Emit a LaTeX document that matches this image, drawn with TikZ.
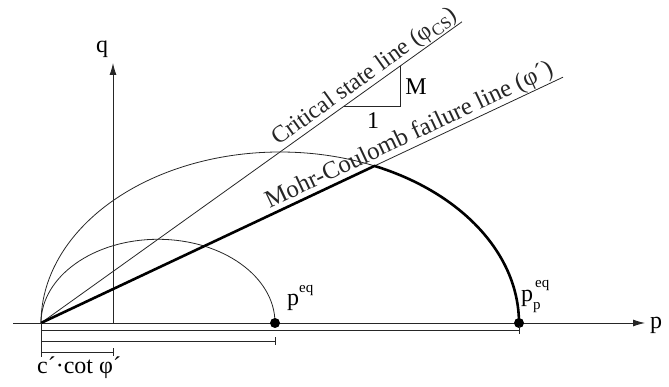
\documentclass[tikz,border=0pt]{standalone}
\usepackage{fontspec}
\setmainfont{Liberation Serif}
\usetikzlibrary{arrows.meta}
\begin{document}
\begin{tikzpicture}[x=1pt,y=1pt,
  thinline/.style={line width=0.8pt, black!85},
  thickline/.style={line width=2.6pt, line join=round},
  axis/.style={line width=0.9pt, black!85, -{Latex[length=12pt,width=7pt]}},
  dimline/.style={line width=0.8pt, black!85},
  lbl/.style={font=\fontsize{24}{28}\selectfont, inner sep=1pt},
  dot/.style={circle, fill=black, inner sep=0pt, minimum size=10pt}]
\useasboundingbox (0,0) rectangle (669,387);
% key points
\coordinate (O) at (41,64);
\coordinate (pstart) at (13,64);
\coordinate (pend) at (645,64);
\coordinate (qbase) at (113,64);
\coordinate (qend) at (113,324);
\coordinate (P1) at (275,64);
\coordinate (P2) at (519,64);
\coordinate (K) at (374.5,221.05);
\coordinate (CSend) at (462,365.2);
\coordinate (MCend) at (563,309.8);
\coordinate (T1) at (344.3,281);
\coordinate (T2) at (400,281);
\coordinate (T3) at (400,320.8);
% axes
\draw[axis] (pstart) -- (pend);
\draw[axis] (qbase) -- (qend);
\node[lbl, anchor=west] (plabel) at (649,62) {p};
\node[lbl] (qlabel) at (102,338) {q};
% ellipses
\draw[thinline] (O) arc[start angle=180, end angle=0, x radius=117, y radius=83.7];
\draw[thinline] (O) arc[start angle=180, end angle=66.7, x radius=239, y radius=171];
% lines
\draw[thinline] (O) -- (CSend)
  node[lbl, sloped, above, pos=0.785, inner sep=0.5pt] (cslabel) {Critical state line (φ\textsubscript{CS})};
\draw[thinline] (O) -- (MCend)
  node[lbl, sloped, above, pos=0.716, inner sep=0.5pt, font=\fontsize{24.8}{28}\selectfont] (mclabel) {Mohr-Coulomb failure line (φ´)};
\draw[thickline] (O) -- (K) arc[start angle=66.7, end angle=0, x radius=239, y radius=171];
% slope triangle
\draw[thinline] (T1) -- (T2) -- (T3);
\node[lbl] (M) at (416,300) {M};
\node[lbl] (one) at (373,266) {1};
% points
\node[dot] (d1) at (P1) {};
\node[dot] (d2) at (P2) {};
\node[lbl, anchor=base west, inner sep=0pt] (peq) at (287,81) {p\raisebox{0.55em}{\fontsize{15}{17}\selectfont eq}};
\node[lbl, anchor=base west, inner sep=0pt] (ppeq) at (521,85) {p\rlap{\raisebox{0.6em}{\fontsize{15}{17}\selectfont\kern2pt eq}}\raisebox{-0.3em}{\fontsize{15}{17}\selectfont p}};
% dimension lines
\coordinate (D1a) at (41,57);
\coordinate (D1b) at (519,57);
\coordinate (D2a) at (41,45.5);
\coordinate (D2b) at (275,45.5);
\coordinate (D3a) at (41,34.5);
\coordinate (D3b) at (113,34.5);
\coordinate (Ttop) at (41,64);
\coordinate (Tbot) at (41,30);
\draw[dimline] (D1a) -- (D1b);
\draw[dimline] (D2a) -- (D2b);
\draw[dimline] (D3a) -- (D3b);
\draw[dimline] (Ttop) -- (Tbot);
\draw[dimline] ([yshift=4pt]D1b) -- ([yshift=-4pt]D1b);
\draw[dimline] ([yshift=4pt]D2b) -- ([yshift=-4pt]D2b);
\draw[dimline] ([yshift=4pt]D3b) -- ([yshift=-4pt]D3b);
\node[lbl, anchor=base west, inner sep=0pt] (cot) at (37,13) {c´·cot φ´};
\end{tikzpicture}
\end{document}
